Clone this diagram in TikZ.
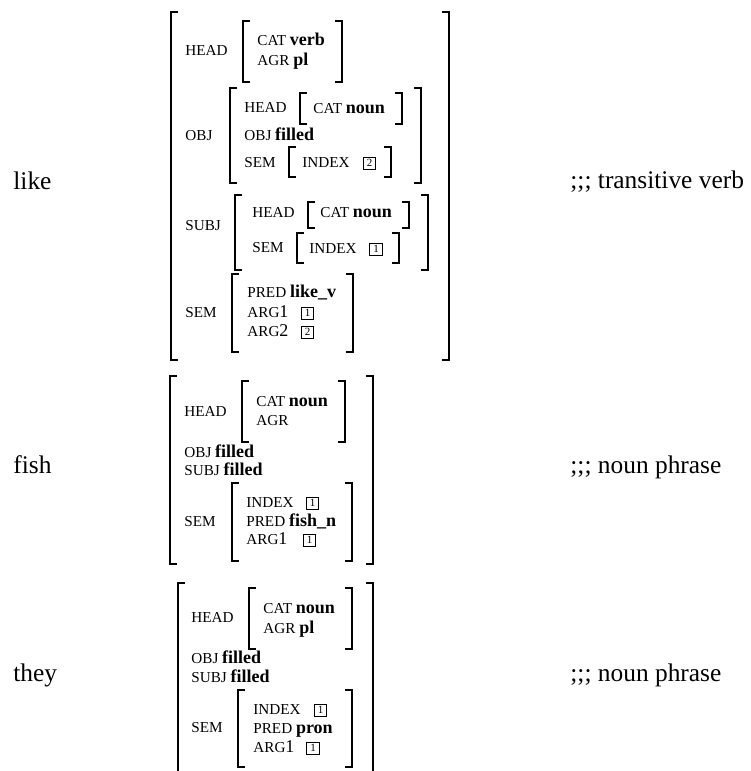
\documentclass[tikz,border=0pt]{standalone}
\usepackage{fontspec}
\setmainfont{Liberation Serif}
\usetikzlibrary{positioning}
\tikzset{
    word/.style = {anchor=base west, inner sep=0pt,
        font=\fontsize{12.7}{14}\selectfont},
    feat/.style = {anchor=base west, inner sep=0pt,
        font=\fontsize{7.6}{9}\selectfont},
    tagbox/.style = {draw, line width=0.5pt, inner sep=0pt,
        minimum width=6.2pt, minimum height=6pt,
        font=\fontsize{5.5}{6}\selectfont},
    outer/.style = {line width=0.9pt},
    inner/.style = {line width=0.7pt}
}
\newcommand{\fval}[1]{{\fontsize{9}{10}\selectfont\bfseries #1}}
\newcommand{\argnum}[1]{{\fontsize{9}{10}\selectfont #1}}
\newcommand{\lbrk}[4][inner]{\draw[#1] (#2+7,#3) -- (#2,#3) -- (#2,#4) -- (#2+7,#4);}
\newcommand{\rbrk}[4][inner]{\draw[#1] (#2-7,#3) -- (#2,#3) -- (#2,#4) -- (#2-7,#4);}

\begin{document}
\begin{tikzpicture}[x=0.5pt, y=-0.5pt]
    \useasboundingbox (0,0) rectangle (750,771);
    % like
    \node[word] (like) at (13,189) {like};
    \node[word] (likec) at (570,188) {;;; transitive verb};
    \lbrk[outer]{171}{12}{360} \rbrk[outer]{449}{12}{360}
    \node[feat] (lhead) at (185,55) {HEAD};
    \lbrk{243}{21}{82} \rbrk{342}{21}{82}
    \node[feat] (lcat) at (257,46) {CAT \fval{verb}};
    \node[feat] (lagr) at (257,65) {AGR \fval{pl}};
    \node[feat] (lobj) at (185,140) {OBJ};
    \lbrk{230}{88}{183} \rbrk{421}{88}{183}
    \node[feat] (lohead) at (244,112) {HEAD};
    \lbrk{300}{93}{124} \rbrk{402}{93}{124}
    \node[feat] (locat) at (313,113) {CAT \fval{noun}};
    \node[feat] (loobj) at (244,140) {OBJ \fval{filled}};
    \node[feat] (losem) at (244,167) {SEM};
    \lbrk{289}{147}{177} \rbrk{391}{147}{177}
    \node[feat] (loidx) at (302,167) {INDEX};
    \node[tagbox] (lotag) at (369.5,163) {2};
    \node[feat] (lsubj) at (185,230) {SUBJ};
    \lbrk{235}{195}{270} \rbrk{428}{195}{270}
    \node[feat] (lshead) at (252,217) {HEAD};
    \lbrk{308}{202}{228} \rbrk{409}{202}{228}
    \node[feat] (lscat) at (320,217) {CAT \fval{noun}};
    \node[feat] (lssem) at (252,252) {SEM};
    \lbrk{297}{233}{263} \rbrk{399}{233}{263}
    \node[feat] (lsidx) at (309,253) {INDEX};
    \node[tagbox] (lstag) at (376,249) {1};
    \node[feat] (lsem) at (185,317) {SEM};
    \lbrk{232}{274}{352} \rbrk{353}{274}{352}
    \node[feat] (lpred) at (247,297) {PRED \fval{like\_v}};
    \node[feat] (larga) at (247,317) {ARG\argnum{1}};
    \node[tagbox] (ltaga) at (307.5,313) {1};
    \node[feat] (largb) at (247,336) {ARG\argnum{2}};
    \node[tagbox] (ltagb) at (307.5,332) {2};
    % fish
    \node[word] (fish) at (13,473) {fish};
    \node[word] (fishc) at (570,473) {;;; noun phrase};
    \lbrk[outer]{170}{376}{564} \rbrk[outer]{373}{376}{564}
    \node[feat] (fhead) at (184,416) {HEAD};
    \lbrk{242}{381}{442} \rbrk{345}{381}{442}
    \node[feat] (fcat) at (256,406) {CAT \fval{noun}};
    \node[feat] (fagr) at (256,425) {AGR};
    \node[feat] (fobj) at (184,457) {OBJ \fval{filled}};
    \node[feat] (fsubj) at (184,475) {SUBJ \fval{filled}};
    \node[feat] (fsem) at (184,526) {SEM};
    \lbrk{232}{483}{561} \rbrk{352}{483}{561}
    \node[feat] (fidx) at (246,507) {INDEX};
    \node[tagbox] (ftaga) at (312.5,503) {1};
    \node[feat] (fpred) at (246,526) {PRED \fval{fish\_n}};
    \node[feat] (farg) at (246,544) {ARG\argnum{1}};
    \node[tagbox] (ftagb) at (309.5,540) {1};
    % they
    \node[word] (they) at (13,681) {they};
    \node[word] (theyc) at (570,681) {;;; noun phrase};
    \draw[outer] (178+7,583) -- (178,583) -- (178,771);
    \draw[outer] (373-7,583) -- (373,583) -- (373,771);
    \node[feat] (thead) at (191,622) {HEAD};
    \lbrk{249}{588}{649} \rbrk{352}{588}{649}
    \node[feat] (tcat) at (263,613) {CAT \fval{noun}};
    \node[feat] (tagr) at (263,633) {AGR \fval{pl}};
    \node[feat] (tobj) at (191,663) {OBJ \fval{filled}};
    \node[feat] (tsubj) at (191,682) {SUBJ \fval{filled}};
    \node[feat] (tsem) at (191,732) {SEM};
    \lbrk{238}{690}{767} \rbrk{352}{690}{767}
    \node[feat] (tidx) at (253,714) {INDEX};
    \node[tagbox] (ttaga) at (320.5,710) {1};
    \node[feat] (tpred) at (253,733) {PRED \fval{pron}};
    \node[feat] (targ) at (253,752) {ARG\argnum{1}};
    \node[tagbox] (ttagb) at (313,748) {1};
\end{tikzpicture}
\end{document}
